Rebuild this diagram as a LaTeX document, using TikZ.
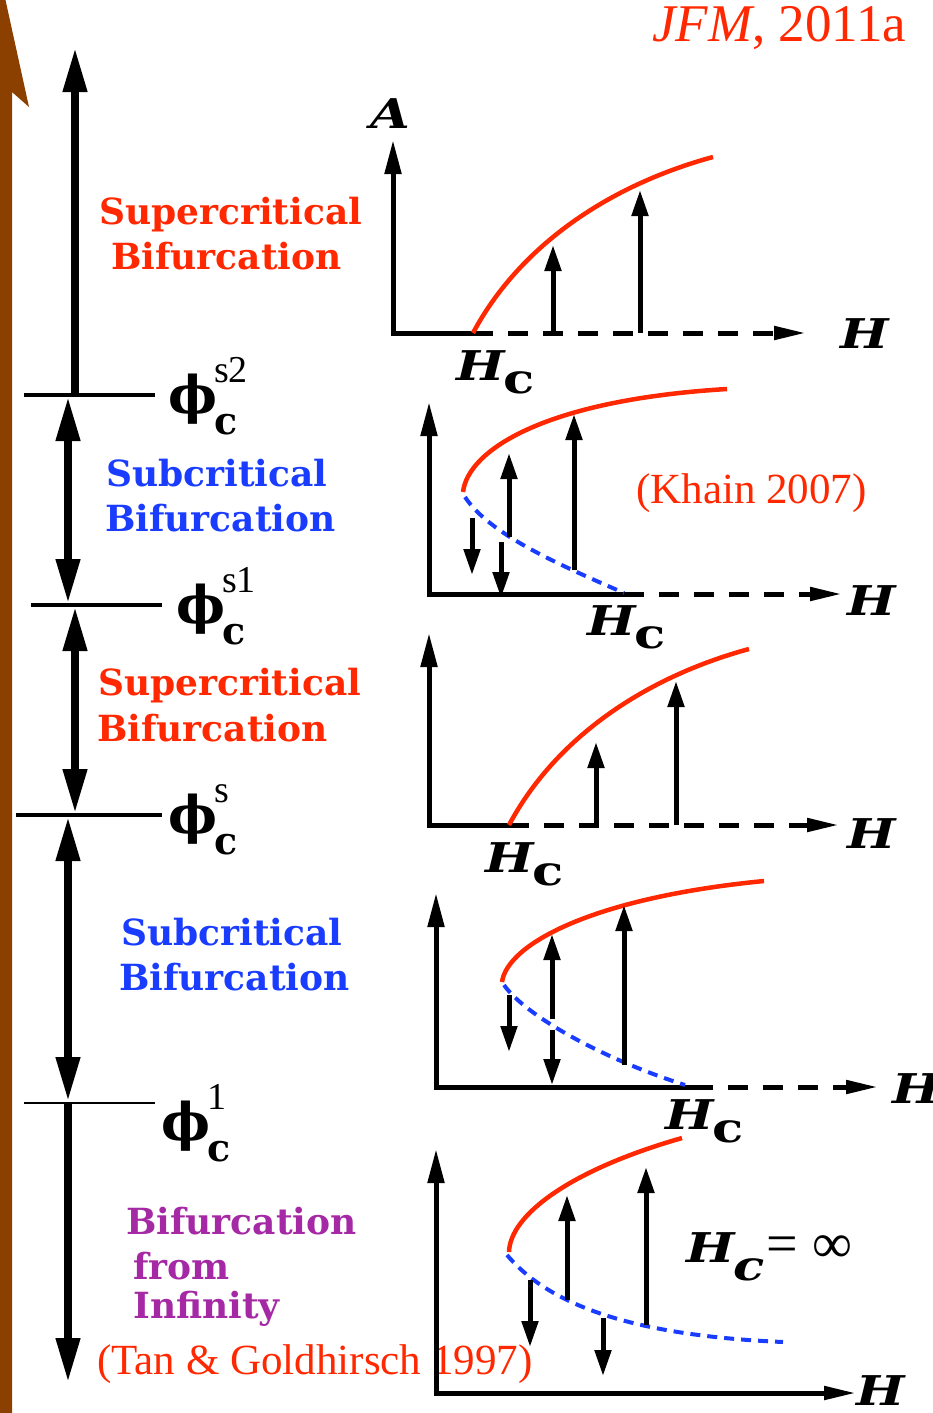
\documentclass[tikz,border=0pt]{standalone}
\usepackage{fontspec}
\setmainfont{Liberation Serif}
\newfontfamily\dvs{DejaVu Serif}
\newfontfamily\wide{DejaVu Serif}[FakeStretch=1.25]
\usetikzlibrary{arrows.meta}

\definecolor{fire}{RGB}{255,40,0}
\definecolor{sky}{RGB}{25,60,255}
\definecolor{plum}{RGB}{165,40,165}
\definecolor{rust}{RGB}{140,64,0}

% critical fraction label: phi with super- and subscript
\newcommand{\philab}[1]{{\dvs\bfseries\fontsize{52}{52}\selectfont ϕ}\kern-3pt\rlap{\raisebox{31pt}{\fontsize{38}{38}\selectfont #1}}\raisebox{-21pt}{\dvs\bfseries\upshape\fontsize{38}{38}\selectfont c}}
\newcommand{\Hc}{H\kern-1pt\raisebox{-13pt}{\upshape c}}

\begin{document}
\begin{tikzpicture}[
    x=1pt, y=-1pt,
    head/.style={font={\dvs\bfseries\fontsize{36}{36}\selectfont}, anchor=base west, inner sep=0pt},
    cite/.style={font={\fontsize{43}{43}\selectfont}, text=fire, anchor=base west, inner sep=0pt},
    sym/.style={font={\wide\bfseries\itshape\fontsize{41}{41}\selectfont}, anchor=base west, inner sep=0pt},
    critlabel/.style={anchor=base west, inner sep=0pt},
    span/.style={line width=7.5pt, {Triangle[length=44pt,width=23pt]}-{Triangle[length=44pt,width=23pt]}},
    spanup/.style={line width=7.5pt, -{Triangle[length=44pt,width=23pt]}},
    level/.style={line width=4pt},
    axis/.style={line width=5pt, -{Triangle[length=34pt,width=16pt]}},
    xaxis/.style={line width=5pt, -{Triangle[length=32pt,width=13pt]}},
    haxis/.style={xaxis, dash pattern=on 20pt off 15pt},
    floor/.style={line width=5pt, line cap=rect},
    jump/.style={line width=5pt, -{Triangle[length=26pt,width=16pt]}},
    stable/.style={fire, line width=4.5pt},
    unstable/.style={sky, line width=4pt, dash pattern=on 10pt off 7pt}
]
\useasboundingbox (0,0) rectangle (933,1413);

% brown arrow on the left edge
\fill[rust] (-12,1420) -- (12,1420) -- (12,92) -- (29,107) -- (0,-25) -- (-29,107) -- (-12,92) -- cycle;

% left column: levels and ranges
\foreach \y/\a/\b in {395/24/155, 605/31/162, 815/16/162}
  \draw[level] (\a,\y) -- (\b,\y);
\draw[line width=1.6pt] (24,1103) -- (155,1103);

\coordinate (k0) at (75,48);
\coordinate (k1) at (75,397);
\coordinate (k2) at (68,397);
\coordinate (k3) at (68,603);
\coordinate (k4) at (75,607);
\coordinate (k5) at (75,813);
\coordinate (k6) at (68,817);
\coordinate (k7) at (68,1101);
\coordinate (k8) at (68,1103);
\coordinate (k9) at (68,1382);
\draw[spanup] (k1) -- (k0);
\draw[span] (k2) -- (k3);
\draw[span] (k4) -- (k5);
\draw[span] (k6) -- (k7);
\draw[spanup] (k8) -- (k9);

\node[critlabel] (ps2) at (168,413) {\philab{s2}};
\node[critlabel] (ps1) at (176,623) {\philab{s1}};
\node[critlabel] (ps) at (168,833) {\philab{s}};
\node[critlabel] (p1) at (161,1140) {\philab{1}};

\node[head, text=fire] (sup1a) at (99,224) {Supercritical};
\node[head, text=fire] (sup1b) at (111,269) {Bifurcation};
\node[head, text=sky] (sub1a) at (106,486) {Subcritical};
\node[head, text=sky] (sub1b) at (105,531) {Bifurcation};
\node[head, text=fire] (sup2a) at (98,695) {Supercritical};
\node[head, text=fire] (sup2b) at (97,741) {Bifurcation};
\node[head, text=sky] (sub2a) at (121,945) {Subcritical};
\node[head, text=sky] (sub2b) at (119,990) {Bifurcation};
\node[head, text=plum] (inf1) at (126,1234) {Bifurcation};
\node[head, text=plum] (inf2) at (133,1279) {from};
\node[head, text=plum] (inf3) at (133,1318) {Infinity};

\node[cite] (tan) at (97,1374) {(Tan \& Goldhirsch 1997)};
\node[cite, font={\fontsize{53}{53}\selectfont}] (jfm) at (652,42) {\textit{JFM}, 2011a};

% panel 1: supercritical
\coordinate (o1) at (393,333);
\coordinate (y1) at (393,140);
\coordinate (c1) at (473,333);
\coordinate (x1) at (806,333);
\draw[floor] (o1) -- (c1);
\draw[axis] (o1) -- (y1);
\draw[haxis] (c1) -- (x1);
\draw[stable] (473,333) .. controls (520,245) and (610,185) .. (713,157);
\coordinate (a1) at (553,333);
\coordinate (b1) at (553,245);
\coordinate (a2) at (640,333);
\coordinate (b2) at (640,190);
\draw[jump] (a1) -- (b1);
\draw[jump] (a2) -- (b2);
\node[sym] (amp) at (370,128) {A};
\node[sym] (h1) at (840,348) {H};
\node[sym] (hc1) at (456,380) {\Hc};

% panel 2: subcritical
\coordinate (o2) at (429,594);
\coordinate (y2) at (429,402);
\coordinate (c2) at (624,594);
\coordinate (x2) at (842,594);
\draw[floor] (o2) -- (c2);
\draw[axis] (o2) -- (y2);
\draw[haxis] (c2) -- (x2);
\draw[stable] (463,492) .. controls (468,450) and (545,400) .. (727,389);
\draw[unstable] (465,497) .. controls (490,535) and (560,565) .. (624,593);
\coordinate (a3) at (472,518);
\coordinate (b3) at (472,575);
\coordinate (a4) at (509,537);
\coordinate (b4) at (509,453);
\coordinate (a5) at (501,542);
\coordinate (b5) at (501,598);
\coordinate (a6) at (574,570);
\coordinate (b6) at (574,414);
\draw[jump] (a3) -- (b3);
\draw[jump] (a4) -- (b4);
\draw[jump] (a5) -- (b5);
\draw[jump] (a6) -- (b6);
\node[sym] (h2) at (847,615) {H};
\node[sym] (hc2) at (587,635) {\Hc};
\node[cite] (khain) at (636,503) {(Khain 2007)};

% panel 3: supercritical
\coordinate (o3) at (429,825);
\coordinate (y3) at (429,633);
\coordinate (c3) at (509,825);
\coordinate (x3) at (839,825);
\draw[floor] (o3) -- (c3);
\draw[axis] (o3) -- (y3);
\draw[haxis] (c3) -- (x3);
\draw[stable] (509,825) .. controls (556,737) and (646,677) .. (749,649);
\coordinate (a7) at (596,825);
\coordinate (b7) at (596,742);
\coordinate (a8) at (676,825);
\coordinate (b8) at (676,681);
\draw[jump] (a7) -- (b7);
\draw[jump] (a8) -- (b8);
\node[sym] (h3) at (847,848) {H};
\node[sym] (hc3) at (485,872) {\Hc};

% panel 4: subcritical
\coordinate (o4) at (436,1087);
\coordinate (y4) at (436,893);
\coordinate (c4) at (693,1087);
\coordinate (x4) at (878,1087);
\draw[floor] (o4) -- (c4);
\draw[axis] (o4) -- (y4);
\draw[haxis] (c4) -- (x4);
\draw[stable] (502,982) .. controls (507,945) and (590,898) .. (764,881);
\draw[unstable] (504,985) .. controls (525,1015) and (600,1058) .. (685,1085);
\coordinate (a9) at (509,995);
\coordinate (b9) at (509,1052);
\coordinate (a10) at (552,1019);
\coordinate (b10) at (552,934);
\coordinate (a11) at (552,1030);
\coordinate (b11) at (552,1085);
\coordinate (a12) at (624,1065);
\coordinate (b12) at (624,905);
\draw[jump] (a9) -- (b9);
\draw[jump] (a10) -- (b10);
\draw[jump] (a11) -- (b11);
\draw[jump] (a12) -- (b12);
\node[sym] (h4) at (892,1103) {H};
\node[sym] (hc4) at (665,1129) {\Hc};

% panel 5: bifurcation from infinity
\coordinate (o5) at (436,1393);
\coordinate (y5) at (436,1149);
\coordinate (x5) at (856,1393);
\draw[axis] (o5) -- (y5);
\draw[xaxis, line cap=rect] (o5) -- (x5);
\draw[stable] (509,1252) .. controls (510,1215) and (570,1170) .. (682,1138);
\draw[unstable] (507,1255) .. controls (545,1300) and (620,1335) .. (783,1342);
\coordinate (a13) at (530,1280);
\coordinate (b13) at (530,1347);
\coordinate (a14) at (567,1300);
\coordinate (b14) at (567,1195);
\coordinate (a15) at (603,1318);
\coordinate (b15) at (603,1376);
\coordinate (a16) at (646,1325);
\coordinate (b16) at (646,1167);
\draw[jump] (a13) -- (b13);
\draw[jump] (a14) -- (b14);
\draw[jump] (a15) -- (b15);
\draw[jump] (a16) -- (b16);
\node[sym] (h5) at (856,1405) {H};
\node[sym] (hinf) at (686,1262) {H\kern-1pt\raisebox{-18pt}{c}\hspace{2pt}{\rmfamily\mdseries\upshape\fontsize{56}{56}\selectfont = ∞}};

\end{tikzpicture}
\end{document}
